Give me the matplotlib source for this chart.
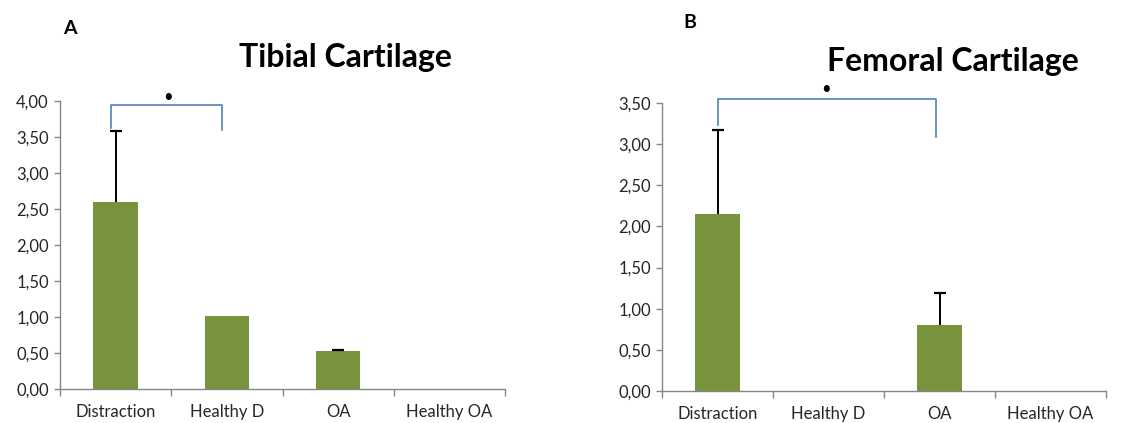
import matplotlib
matplotlib.use("Agg")
import matplotlib.pyplot as plt
import numpy as np

categories = ["Distraction", "Healthy D", "OA", "Healthy OA"]
tibial_values = [2.60, 1.01, 0.53, 0.0]
tibial_err = [0.98, 0.0, 0.005, 0.0]
femoral_values = [2.15, 0.0, 0.80, 0.0]
femoral_err = [1.02, 0.0, 0.39, 0.0]
tibial_ticks = [0, 0.5, 1.0, 1.5, 2.0, 2.5, 3.0, 3.5, 4.0]
femoral_ticks = [0, 0.5, 1.0, 1.5, 2.0, 2.5, 3.0, 3.5]

plt.rcParams['font.family'] = ['Lato', 'DejaVu Sans']

fig = plt.figure(figsize=(11.43, 4.23), dpi=100)
bar_color = "#77933C"
axis_color = "#868686"
bracket_color = "#4F81BD"

def panel(rect, values, errs, yticks, title, title_xy, label, label_xy,
          bracket, star):
    ax = fig.add_axes(rect)
    x = np.arange(len(categories))
    ax.bar(x, values, width=0.4, color=bar_color, zorder=2)
    vals = np.array(values)
    er = np.array(errs)
    m = er > 0
    ax.vlines(x[m], vals[m], vals[m] + er[m], color='black', lw=1.4, zorder=3)
    ax.plot(x[m], vals[m] + er[m], linestyle='none', marker='_', markersize=8,
            markeredgewidth=1.6, color='black', zorder=3)
    ax.set_xlim(-0.5, len(categories) - 0.5)
    ax.set_ylim(0, yticks[-1])
    ax.set_yticks(yticks)
    ax.set_yticklabels([f"{t:.2f}".replace('.', ',') for t in yticks])
    ax.set_xticks(x)
    ax.set_xticklabels(categories)
    ax.set_xticks(np.arange(-0.5, len(categories), 1.0), minor=True)
    ax.tick_params(axis='x', which='major', length=0, pad=11, labelsize=12, labelcolor='#262626')
    ax.tick_params(axis='x', which='minor', length=5, width=1, color=axis_color)
    ax.tick_params(axis='y', length=4, width=1, color=axis_color, labelsize=12, labelcolor='#262626', pad=4)
    for s in ['top', 'right']:
        ax.spines[s].set_visible(False)
    for s in ['left', 'bottom']:
        ax.spines[s].set_color(axis_color)
        ax.spines[s].set_linewidth(1)
    (x0, y0l), (x1, y0r), ytop = bracket
    ax.plot([x0, x0, x1, x1], [y0l, ytop, ytop, y0r], color=bracket_color, lw=1.2,
            clip_on=False, zorder=4)
    ax.text(star[0], star[1], "•", ha='center', va='center', fontsize=12,
            color='black', clip_on=False)
    fig.text(title_xy[0], title_xy[1], title, ha='center', va='center',
             fontsize=23, fontweight='bold', color='black')
    fig.text(label_xy[0], label_xy[1], label, ha='center', va='center',
             fontsize=14, fontweight='bold', color='black')
    return ax

panel([60/1143, 1 - 389/423, 445/1143, 288/423], tibial_values, tibial_err,
      tibial_ticks, "Tibial Cartilage", (345/1143, 1 - 58/423), "A", (70/1143, 1 - 28/423),
      ((-0.04, 3.62), (0.96, 3.60), 3.95), (0.47, 4.05))
panel([662/1143, 1 - 391/423, 444/1143, 288/423], femoral_values, femoral_err,
      femoral_ticks, "Femoral Cartilage", (953/1143, 1 - 61/423), "B", (690/1143, 1 - 22/423),
      ((0.0, 3.23), (1.97, 3.09), 3.55), (0.98, 3.67))

fig.savefig("out.png", dpi=100)
